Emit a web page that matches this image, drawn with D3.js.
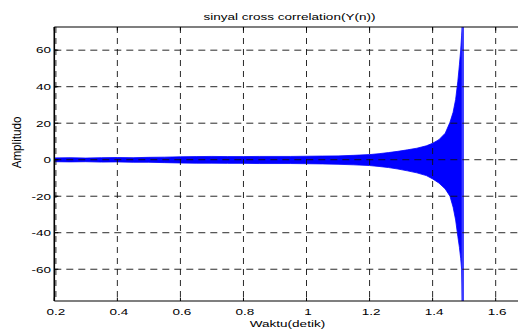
<!DOCTYPE html>
<html>
<head>
<meta charset="utf-8">
<script src="https://cdn.jsdelivr.net/npm/d3@7"></script>
<style>
  html, body { margin: 0; padding: 0; background: #fff; }
  svg { display: block; overflow: hidden; }
  text { font-family: "Liberation Sans", Arial, Helvetica, sans-serif; fill: #000; }
</style>
</head>
<body>
<svg id="chart" width="518" height="329"></svg>
<script>
// ---- data ----
const titleText = "sinyal cross correlation(Y(n))";
const xLabelText = "Waktu(detik)";
const yLabelText = "Amplitudo";

const xTicks = [0.2, 0.4, 0.6, 0.8, 1.0, 1.2, 1.4, 1.6];
const xTickLabels = ["0.2", "0.4", "0.6", "0.8", "1", "1.2", "1.4", "1.6"];
const yTicks = [-60, -40, -20, 0, 20, 40, 60];
const yTickLabels = ["-60", "-40", "-20", "0", "20", "40", "60"];

const xDomain = [0.2, 1.7];
const yDomain = [-77.4, 72.7];

// envelope of the oscillating cross-correlation signal
const envTime  = [0.20,0.25,0.30,0.35,0.40,0.45,0.50,0.55,0.60,0.65,0.70,0.75,0.80,0.85,0.90,0.95,1.00,1.05,1.10,1.15,1.20,1.23,1.26,1.29,1.32,1.35,1.38,1.40,1.42,1.44,1.455,1.465,1.473,1.48,1.485,1.489,1.492,1.4945];
const envUpper = [1.0,1.1,0.9,1.1,1.2,1.1,1.3,1.4,1.6,1.7,1.8,1.7,1.7,1.8,1.8,1.8,1.9,2.0,2.1,2.4,2.8,3.3,3.9,4.6,5.4,6.3,7.6,9.0,11.0,14.5,20.5,26,33,43,52,60,68,72.7];
const envLower = [-1.1,-1.2,-1.1,-1.3,-1.2,-1.4,-1.4,-1.6,-1.8,-1.9,-1.9,-2.0,-2.0,-2.1,-2.1,-2.1,-2.2,-2.3,-2.5,-2.8,-3.2,-3.7,-4.3,-5.1,-6.1,-7.2,-8.7,-10.5,-12.8,-16,-20,-26,-33,-42,-48,-54,-60,-77.4];

// final large spike
const spikeTime = [1.4956, 1.4956];
const spikeValue = [72.7, -77.4];

(function () {
// ---- layout ----
const W = 518, H = 329;
const pLeft = 54.3, pTop = 27, pBottom = 301, pRight = 527.2;
const stretch = 1.5;

const svg = d3.select("#chart");
svg.append("rect").attr("width", W).attr("height", H).attr("fill", "#fff");

const x = d3.scaleLinear().domain(xDomain).range([pLeft, pRight]);
const y = d3.scaleLinear().domain(yDomain).range([pBottom, pTop]);

svg.append("defs").append("clipPath").attr("id", "plotclip")
  .append("rect").attr("x", pLeft).attr("y", pTop).attr("width", pRight - pLeft).attr("height", pBottom - pTop);

const plot = svg.append("g").attr("clip-path", "url(#plotclip)");

const env = envTime.map((t, i) => ({ t, u: envUpper[i], l: envLower[i] }));
plot.append("path")
  .datum(env)
  .attr("fill", "#0000ff")
  .attr("stroke", "#0000ff")
  .attr("stroke-width", 0.8)
  .attr("d", d3.area().x(d => x(d.t)).y0(d => y(d.l)).y1(d => y(d.u)));

// grid (drawn on top, like MATLAB layer top)
const grid = svg.append("g").attr("stroke", "#111").attr("stroke-width", 0.9).attr("fill", "none");
xTicks.forEach((t, i) => {
  const px = i === 0 ? x(t) + 1.6 : x(t);
  grid.append("line").attr("x1", px).attr("x2", px).attr("y1", pTop).attr("y2", pBottom)
    .attr("stroke-dasharray", "6,5");
});
yTicks.forEach(v => {
  grid.append("line").attr("x1", pLeft).attr("x2", W).attr("y1", y(v)).attr("y2", y(v))
    .attr("stroke-dasharray", "7,5");
});

// spike
const spike = spikeTime.map((t, i) => ({ t, v: spikeValue[i] }));
plot.append("path")
  .datum(spike)
  .attr("fill", "none")
  .attr("stroke", "#3a3aff")
  .attr("stroke-width", 2.4)
  .attr("d", d3.line().x(d => x(d.t)).y(d => y(d.v)));

// axes box
const ax = svg.append("g").attr("stroke", "#000").attr("fill", "none");
ax.append("line").attr("x1", pLeft).attr("x2", pLeft).attr("y1", pTop).attr("y2", pBottom).attr("stroke-width", 1.6);
ax.append("line").attr("x1", pLeft).attr("x2", W).attr("y1", pTop).attr("y2", pTop).attr("stroke-width", 1.2);
ax.append("line").attr("x1", pLeft).attr("x2", W).attr("y1", pBottom).attr("y2", pBottom).attr("stroke-width", 1.2);

// inward ticks
xTicks.forEach(t => {
  ax.append("line").attr("x1", x(t)).attr("x2", x(t)).attr("y1", pTop).attr("y2", pTop + 3.5).attr("stroke-width", 1);
  ax.append("line").attr("x1", x(t)).attr("x2", x(t)).attr("y1", pBottom).attr("y2", pBottom - 3.5).attr("stroke-width", 1);
});
yTicks.forEach(v => {
  ax.append("line").attr("x1", pLeft).attr("x2", pLeft + 4).attr("y1", y(v)).attr("y2", y(v)).attr("stroke-width", 1);
});

// labels
const fs = 9;
const labels = svg.append("g").attr("font-size", fs);
xTicks.forEach((t, i) => {
  labels.append("text").attr("class", "st")
    .attr("x", x(t) + 1.5).attr("y", 314.5).attr("text-anchor", "middle").text(xTickLabels[i]);
});
yTicks.forEach((v, i) => {
  labels.append("text").attr("class", "st")
    .attr("x", 51).attr("y", y(v) + 3.3).attr("text-anchor", "end").text(yTickLabels[i]);
});
labels.append("text").attr("class", "st")
  .attr("x", 289.5).attr("y", 20).attr("text-anchor", "middle").text(titleText);
labels.append("text").attr("class", "st")
  .attr("x", 287.5).attr("y", 326.5).attr("text-anchor", "middle").text(xLabelText);

svg.selectAll("text.st").each(function() {
  const len = this.getComputedTextLength();
  d3.select(this).attr("textLength", len * stretch).attr("lengthAdjust", "spacingAndGlyphs");
});

// rotated y label
const yl = svg.append("g").attr("transform", "translate(17.5,142.5) scale(1.35,1) rotate(-90)");
yl.append("text").attr("font-size", fs).attr("x", 0).attr("y", 2.3)
  .attr("text-anchor", "middle").attr("textLength", 51.7).attr("lengthAdjust", "spacingAndGlyphs")
  .text(yLabelText);
})();
</script>
</body>
</html>
